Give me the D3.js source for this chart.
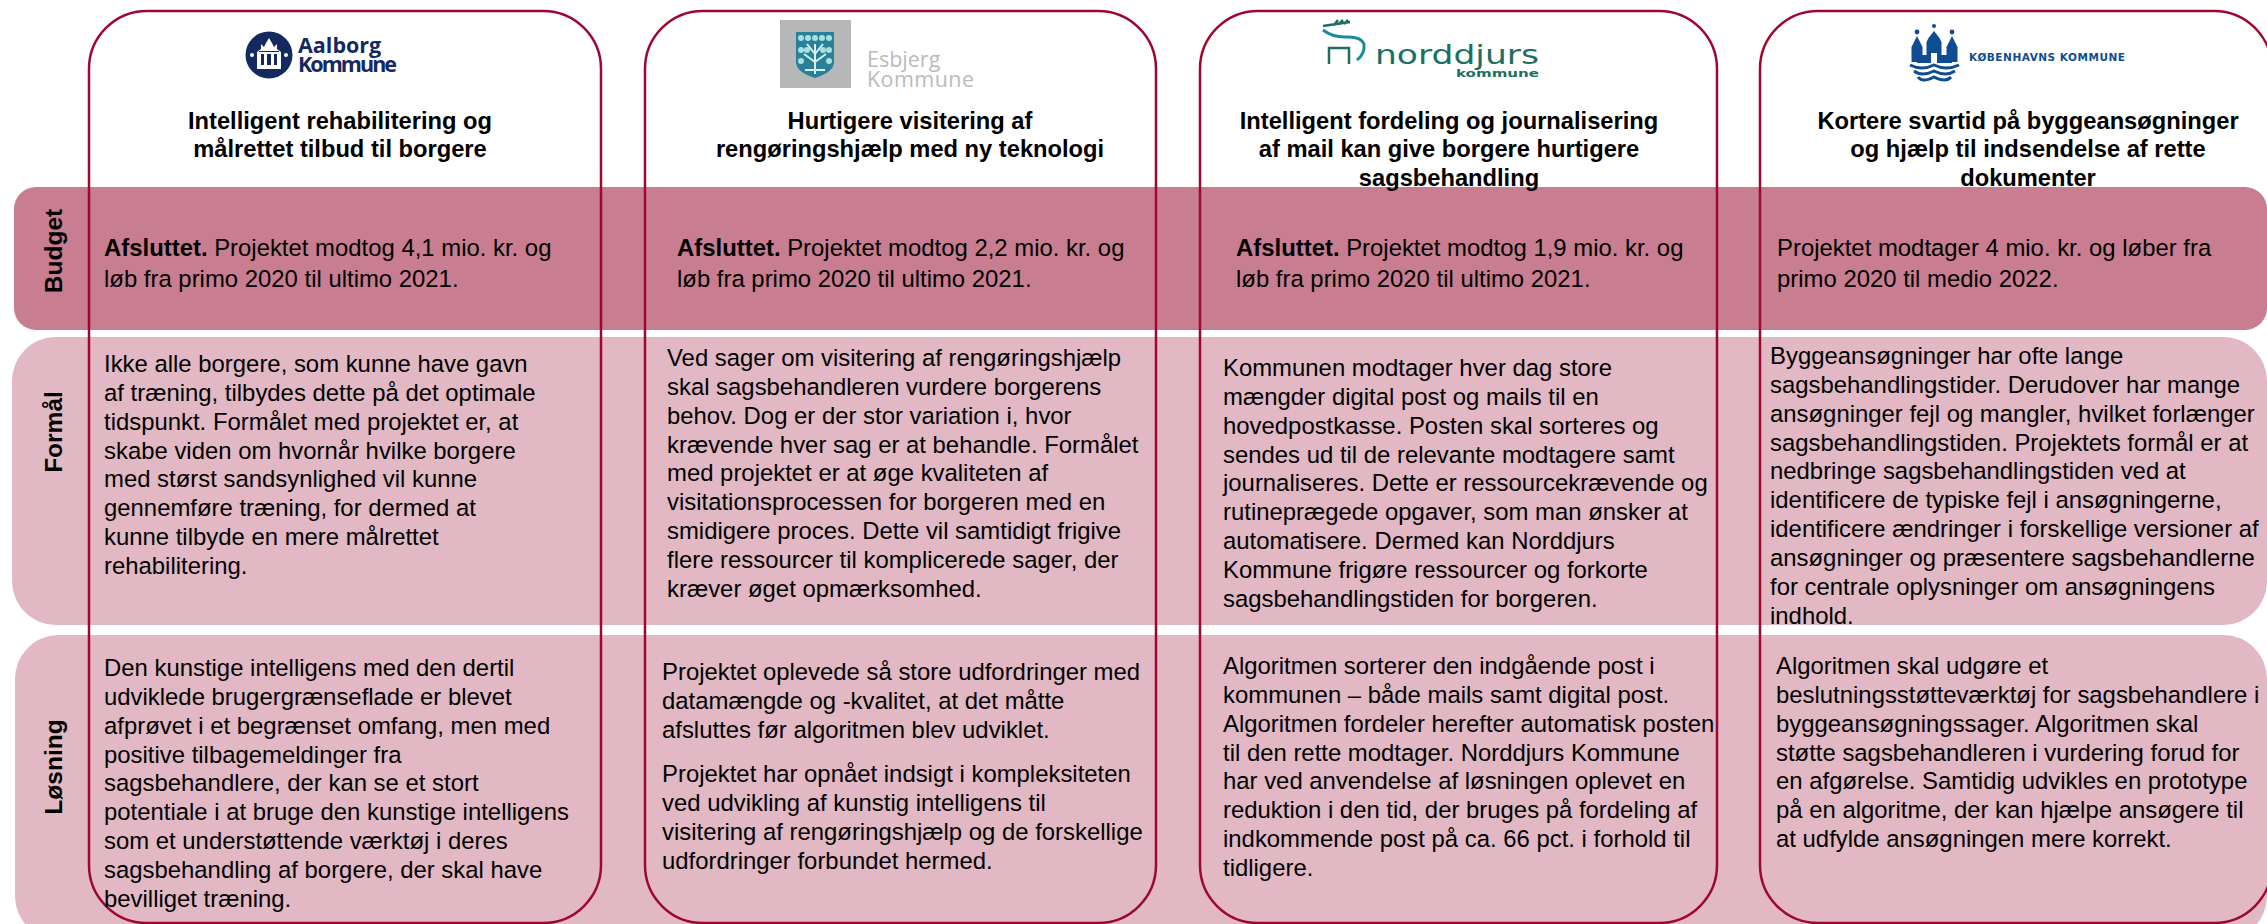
<!DOCTYPE html>
<html>
<head>
<meta charset="utf-8">
<script src="https://cdn.jsdelivr.net/npm/d3@7"></script>
<style>
  html, body { margin: 0; padding: 0; background: #fff; overflow: hidden; }
  svg { display: block; }
  text { font-family: "Liberation Sans", Arial, sans-serif; fill: #000; }
</style>
</head>
<body>
<svg id="slide" width="2267" height="924"></svg>
<script>
// content of the slide
var municipalities = ["Aalborg", "Esbjerg", "Norddjurs", "Koebenhavn"];
var rowLabels = ["Budget", "Formål", "Løsning"];

var titles = [
    ["Intelligent rehabilitering og", "målrettet tilbud til borgere"],
    ["Hurtigere visitering af", "rengøringshjælp med ny teknologi"],
    ["Intelligent fordeling og journalisering", "af mail kan give borgere hurtigere", "sagsbehandling"],
    ["Kortere svartid på byggeansøgninger", "og hjælp til indsendelse af rette", "dokumenter"]
];

var budgetLead = ["Afsluttet.", "Afsluttet.", "Afsluttet.", ""];
var budgetLines = [
    ["Projektet modtog 4,1 mio. kr. og", "løb fra primo 2020 til ultimo 2021."],
    ["Projektet modtog 2,2 mio. kr. og", "løb fra primo 2020 til ultimo 2021."],
    ["Projektet modtog 1,9 mio. kr. og", "løb fra primo 2020 til ultimo 2021."],
    ["Projektet modtager 4 mio. kr. og løber fra", "primo 2020 til medio 2022."]
];

var formaalLines = [
    ["Ikke alle borgere, som kunne have gavn", "af træning, tilbydes dette på det optimale", "tidspunkt. Formålet med projektet er, at",
     "skabe viden om hvornår hvilke borgere", "med størst sandsynlighed vil kunne", "gennemføre træning, for dermed at",
     "kunne tilbyde en mere målrettet", "rehabilitering."],
    ["Ved sager om visitering af rengøringshjælp", "skal sagsbehandleren vurdere borgerens", "behov. Dog er der stor variation i, hvor",
     "krævende hver sag er at behandle. Formålet", "med projektet er at øge kvaliteten af", "visitationsprocessen for borgeren med en",
     "smidigere proces. Dette vil samtidigt frigive", "flere ressourcer til komplicerede sager, der", "kræver øget opmærksomhed."],
    ["Kommunen modtager hver dag store", "mængder digital post og mails til en", "hovedpostkasse. Posten skal sorteres og",
     "sendes ud til de relevante modtagere samt", "journaliseres. Dette er ressourcekrævende og", "rutineprægede opgaver, som man ønsker at",
     "automatisere. Dermed kan Norddjurs", "Kommune frigøre ressourcer og forkorte", "sagsbehandlingstiden for borgeren."],
    ["Byggeansøgninger har ofte lange", "sagsbehandlingstider. Derudover har mange", "ansøgninger fejl og mangler, hvilket forlænger",
     "sagsbehandlingstiden. Projektets formål er at", "nedbringe sagsbehandlingstiden ved at", "identificere de typiske fejl i ansøgningerne,",
     "identificere ændringer i forskellige versioner af", "ansøgninger og præsentere sagsbehandlerne", "for centrale oplysninger om ansøgningens", "indhold."]
];

// second paragraph of Esbjerg is split off in loesningSecond
var loesningLines = [
    ["Den kunstige intelligens med den dertil", "udviklede brugergrænseflade er blevet", "afprøvet i et begrænset omfang, men med",
     "positive tilbagemeldinger fra", "sagsbehandlere, der kan se et stort", "potentiale i at bruge den kunstige intelligens",
     "som et understøttende værktøj i deres", "sagsbehandling af borgere, der skal have", "bevilliget træning."],
    ["Projektet oplevede så store udfordringer med", "datamængde og -kvalitet, at det måtte", "afsluttes før algoritmen blev udviklet."],
    ["Algoritmen sorterer den indgående post i", "kommunen – både mails samt digital post.", "Algoritmen fordeler herefter automatisk posten",
     "til den rette modtager. Norddjurs Kommune", "har ved anvendelse af løsningen oplevet en", "reduktion i den tid, der bruges på fordeling af",
     "indkommende post på ca. 66 pct. i forhold til", "tidligere."],
    ["Algoritmen skal udgøre et", "beslutningsstøtteværktøj for sagsbehandlere i", "byggeansøgningssager. Algoritmen skal",
     "støtte sagsbehandleren i vurdering forud for", "en afgørelse. Samtidig udvikles en prototype", "på en algoritme, der kan hjælpe ansøgere til",
     "at udfylde ansøgningen mere korrekt."]
];
var loesningSecond = ["Projektet har opnået indsigt i kompleksiteten", "ved udvikling af kunstig intelligens til",
    "visitering af rengøringshjælp og de forskellige", "udfordringer forbundet hermed."];

// layout
var W = 2267, H = 924;
var crimson = "#9e0830";
var navy = "#14295f", green = "#1e6f62", kbhBlue = "#0f4c92";
var fontSize = 23.9, titleSize = 23.7, lineH = 28.85;

var panelLeft   = d3.scaleOrdinal().domain(municipalities).range([89, 645, 1200, 1760]);
var panelRight  = d3.scaleOrdinal().domain(municipalities).range([601, 1156, 1717, 2272]);
var titleX      = d3.scaleOrdinal().domain(municipalities).range([340, 910, 1449, 2028]);
var budgetX     = d3.scaleOrdinal().domain(municipalities).range([104, 677, 1236, 1777]);
var formaalX    = d3.scaleOrdinal().domain(municipalities).range([104, 667, 1223, 1770]);
var formaalY    = d3.scaleOrdinal().domain(municipalities).range([372, 366, 376, 364]);
var loesningX   = d3.scaleOrdinal().domain(municipalities).range([104, 662, 1223, 1776]);
var loesningY   = d3.scaleOrdinal().domain(municipalities).range([676, 680, 674, 674]);

var rowTop    = d3.scaleOrdinal().domain(rowLabels).range([187, 337, 635]);
var rowBottom = d3.scaleOrdinal().domain(rowLabels).range([330, 625, 940]);
var rowLeft   = d3.scaleOrdinal().domain(rowLabels).range([14, 12, 15]);
var rowRadius = d3.scaleOrdinal().domain(rowLabels).range([22, 44, 44]);
var rowFill   = d3.scaleOrdinal().domain(rowLabels).range(["#c87d90", "#e1b8c3", "#e1b8c3"]);
var rowLabelY = d3.scaleOrdinal().domain(rowLabels).range([251, 432, 767]);

var svg = d3.select("#slide");

// row bands go under everything
svg.append("g").selectAll("path").data(rowLabels).join("path")
    .attr("d", function(d) {
        var x = rowLeft(d), y = rowTop(d), r = rowRadius(d), h = rowBottom(d) - y, w = W - x;
        var p = d3.path();
        p.moveTo(x + r, y);
        p.arcTo(x + w, y, x + w, y + h, r);
        p.arcTo(x + w, y + h, x, y + h, r);
        p.arcTo(x, y + h, x, y, r);
        p.arcTo(x, y, x + w, y, r);
        p.closePath();
        return p.toString();
    })
    .attr("fill", function(d) { return rowFill(d); });

svg.append("g").selectAll("text").data(rowLabels).join("text")
    .attr("transform", function(d) { return "translate(62," + rowLabelY(d) + ") rotate(-90)"; })
    .attr("text-anchor", "middle")
    .attr("font-size", 24.5)
    .attr("font-weight", "bold")
    .text(function(d) { return d; });

// the outlined project columns
svg.append("g").selectAll("rect").data(municipalities).join("rect")
    .attr("x", function(d) { return panelLeft(d); })
    .attr("y", 11)
    .attr("width", function(d) { return panelRight(d) - panelLeft(d); })
    .attr("height", 912)
    .attr("rx", 58)
    .attr("fill", "none")
    .attr("stroke", crimson)
    .attr("stroke-width", 2.5);

// draws a block of lines from first baseline y
var drawLines = function(parent, lines, x, y, anchor, bold) {
    parent.selectAll(null).data(lines).join("text")
        .attr("x", x)
        .attr("y", function(d, i) { return y + i * lineH; })
        .attr("text-anchor", anchor)
        .attr("font-size", bold ? titleSize : fontSize)
        .attr("font-weight", bold ? "bold" : "normal")
        .text(function(d) { return d; });
};

var body = svg.append("g");
municipalities.forEach(function(m, i) {
    drawLines(body.append("g"), titles[i], titleX(m), 128.5, "middle", true);

    // budget row has a bit wider leading and an optional bold lead-in
    var budget = body.append("g");
    budgetLines[i].forEach(function(line, k) {
        var t = budget.append("text")
            .attr("x", budgetX(m))
            .attr("y", 255.5 + k * 31)
            .attr("font-size", fontSize);
        if (k === 0 && budgetLead[i]) {
            t.append("tspan").attr("font-weight", "bold").text(budgetLead[i] + " ");
        }
        t.append("tspan").text(line);
    });

    drawLines(body.append("g"), formaalLines[i], formaalX(m), formaalY(m), "start", false);
    drawLines(body.append("g"), loesningLines[i], loesningX(m), loesningY(m), "start", false);
});
drawLines(body.append("g"), loesningSecond, loesningX("Esbjerg"), 782, "start", false);

// logos, roughly redrawn
var aalborg = svg.append("g").attr("transform", "translate(269,55)");
aalborg.append("circle").attr("r", 23.5).attr("fill", navy);
aalborg.append("path").attr("fill", "#fff")
    .attr("d", "M-12,14 L-12,-3 L-8,-6 L-8,-11 L-5,-8 L-3,-12 L0,-17 L3,-12 L5,-8 L8,-11 L8,-6 L12,-3 L12,14 Z");
aalborg.append("path").attr("fill", navy)
    .attr("d", "M-8,10 V-1 H-5 V10 Z M-2,10 V-1 H2 V10 Z M5,10 V-1 H8 V10 Z M-10,-4 H10 V-3 H-10 Z");
aalborg.append("circle").attr("cx", -17).attr("cy", 0).attr("r", 2).attr("fill", "#fff");
aalborg.append("circle").attr("cx", 17).attr("cy", 0).attr("r", 2).attr("fill", "#fff");
svg.append("text").attr("x", 298).attr("y", 53).attr("font-size", 21.5).attr("font-weight", "bold")
    .style("font-family", "'Open Sans'").style("fill", navy).text("Aalborg");
svg.append("text").attr("x", 298).attr("y", 72).attr("font-size", 21.5).attr("font-weight", "bold")
    .style("font-family", "'Open Sans'").style("fill", navy).attr("textLength", 99).text("Kommune");

var esbjerg = svg.append("g");
esbjerg.append("rect").attr("x", 780).attr("y", 20).attr("width", 71).attr("height", 68).attr("fill", "#b6b7b8");
esbjerg.append("path").attr("fill", "#2a8098")
    .attr("d", "M796,32 H834 V62 Q834,72 815,78 Q796,72 796,62 Z");
esbjerg.append("path").attr("fill", "none").attr("stroke", "#d6f2f0").attr("stroke-width", 2)
    .attr("d", "M815,74 V44 M815,62 L804,54 M815,62 L826,54 M815,54 L807,44 M815,54 L823,44 M815,70 L805,70 M815,70 L825,70");
esbjerg.selectAll("circle").data([801, 808, 815, 822, 829]).join("circle")
    .attr("cx", function(d) { return d; }).attr("cy", 38).attr("r", 3).attr("fill", "#a8e0e0");
esbjerg.selectAll("ellipse").data([801, 807, 823, 829]).join("ellipse")
    .attr("cx", function(d) { return d; }).attr("cy", 50).attr("rx", 3).attr("ry", 3).attr("fill", "#a8e0e0");
esbjerg.append("g").selectAll("circle").data([801, 829]).join("circle")
    .attr("cx", function(d) { return d; }).attr("cy", 61).attr("r", 3).attr("fill", "#a8e0e0");
svg.append("text").attr("x", 867).attr("y", 67).attr("font-size", 21.5)
    .style("font-family", "'Open Sans'").style("fill", "#b8bcbd").text("Esbjerg");
svg.append("text").attr("x", 867).attr("y", 87).attr("font-size", 21.5)
    .style("font-family", "'Open Sans'").style("fill", "#b8bcbd").attr("textLength", 107).text("Kommune");

var nord = svg.append("g");
nord.append("path").attr("fill", "none").attr("stroke", "#1b8aa0").attr("stroke-width", 3)
    .attr("d", "M1323,30 Q1332,37 1345,37 Q1361,36 1364,44 Q1365,54 1357,60");
nord.append("path").attr("fill", "none").attr("stroke", green).attr("stroke-width", 2.5)
    .attr("d", "M1329,64 V48 H1349 V64 M1323,26 L1350,22 M1334,25 L1338,20 M1339,24 L1343,20 M1344,24 L1348,20");
svg.append("text").attr("x", 1375).attr("y", 64).attr("font-size", 27).style("fill", green)
    .style("font-family", "'DejaVu Sans'").attr("textLength", 164).attr("lengthAdjust", "spacingAndGlyphs").text("norddjurs");
svg.append("text").attr("x", 1456).attr("y", 77).attr("font-size", 10.5).attr("font-weight", "bold").style("fill", green)
    .style("font-family", "'DejaVu Sans'").attr("textLength", 83).attr("lengthAdjust", "spacingAndGlyphs").text("kommune");

var kbh = svg.append("g").attr("fill", kbhBlue);
[1917, 1934, 1952].forEach(function(c, i) {
    var w = i === 1 ? 7.5 : 5.5;
    var top = i === 1 ? 31 : 36;
    kbh.append("path").attr("d", "M" + (c - w) + ",62 V" + (top + 11) + " L" + (c - w + 2) + "," + (top + 7) + " L" + c + "," + top + " L" + (c + w - 2) + "," + (top + 7) + " L" + (c + w) + "," + (top + 11) + " V62 Z");
});
kbh.append("rect").attr("x", 1917).attr("y", 55).attr("width", 35).attr("height", 8);
kbh.append("rect").attr("x", 1931).attr("y", 53).attr("width", 6).attr("height", 10).attr("fill", "#fff");
kbh.selectAll("circle").data([1917, 1952]).join("circle")
    .attr("cx", function(d) { return d; }).attr("cy", 32).attr("r", 2.4);
kbh.append("circle").attr("cx", 1934).attr("cy", 26).attr("r", 2);
[65, 71, 77].forEach(function(y, i) {
    kbh.append("path").attr("fill", "none").attr("stroke", kbhBlue).attr("stroke-width", 3)
        .attr("d", "M" + (1910 + i * 4) + "," + y + " Q1922," + (y + 6) + " 1934," + y + " Q1946," + (y + 6) + " " + (1959 - i * 4) + "," + y);
});
svg.append("text").attr("x", 1969).attr("y", 61).attr("font-size", 10.5).attr("font-weight", "bold").style("fill", kbhBlue)
    .style("font-family", "'DejaVu Sans'").attr("textLength", 156).text("KØBENHAVNS KOMMUNE");
</script>
</body>
</html>
